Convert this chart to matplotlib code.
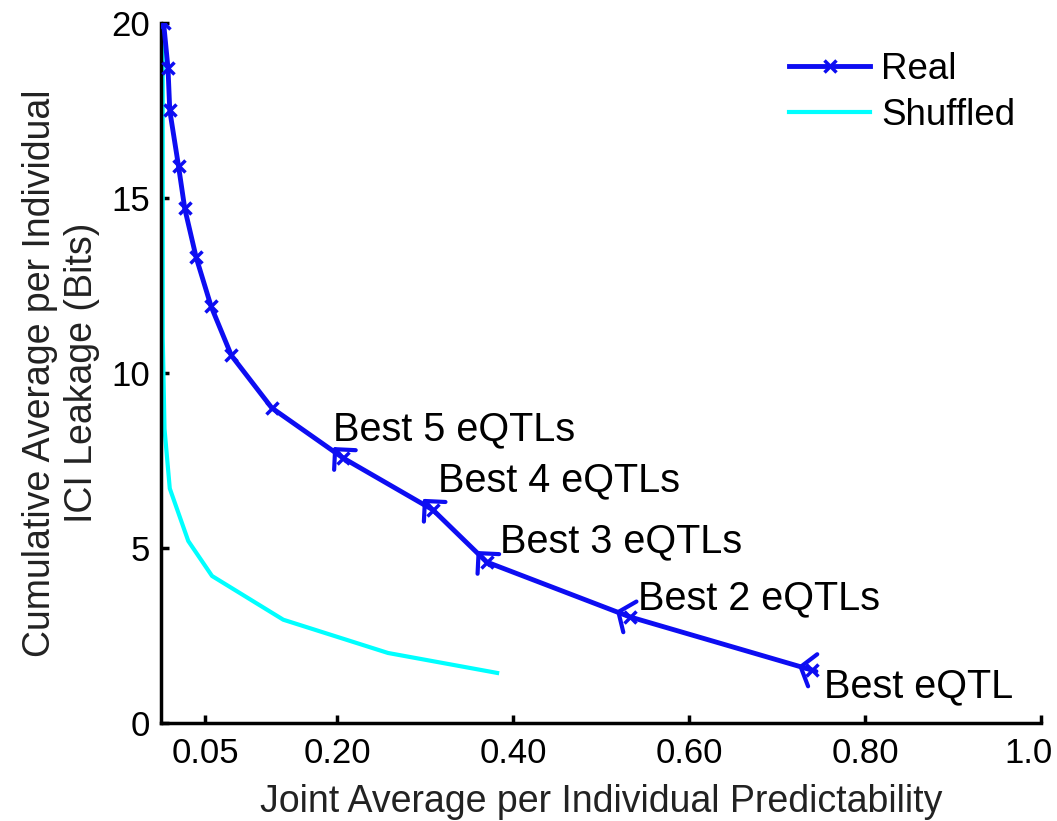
import matplotlib
matplotlib.use("Agg")
import matplotlib.pyplot as plt
from matplotlib.transforms import ScaledTranslation

plt.rcParams['font.family'] = ['Liberation Sans', 'DejaVu Sans']

# Data
real_x = [0.003, 0.008, 0.010, 0.020, 0.027, 0.040, 0.057, 0.080, 0.126, 0.207, 0.309, 0.370, 0.533, 0.740]
real_y = [20.0, 18.7, 17.5, 15.9, 14.7, 13.3, 11.9, 10.5, 9.0, 7.57, 6.09, 4.6, 3.03, 1.51]
shuf_x = [0.002, 0.002, 0.004, 0.010, 0.031, 0.058, 0.139, 0.258, 0.382]
shuf_y = [20.0, 11.0, 8.4, 6.7, 5.2, 4.2, 2.95, 2.0, 1.43]

labels = ["Best 5 eQTLs", "Best 4 eQTLs", "Best 3 eQTLs", "Best 2 eQTLs", "Best eQTL"]
label_idx = [9, 10, 11, 12, 13]

xticks = [0.05, 0.20, 0.40, 0.60, 0.80, 1.0]
xticklabels = ["0.05", "0.20", "0.40", "0.60", "0.80", "1.0"]
yticks = [0, 5, 10, 15, 20]
yticklabels = ["0", "5", "10", "15", "20"]

# styles: text offsets (pixels), arrow-head tip offsets (pixels) and head shapes per label
text_off = [(-10, 18), (5, 18), (13, 10), (8, 8), (12, -27)]
tip_off = [(-10, 11), (-10, 11), (-10, 11), (-14, 6), (-14, 4)]
head_shape = [(1.05, 1.05), (1.05, 1.05), (1.05, 1.05), (0.9, 1.2), (0.9, 1.2)]

BLUE = (0.05, 0.05, 0.95)
CYAN = (0.0, 1.0, 1.0)

fig = plt.figure(figsize=(10.57, 8.21), dpi=100)
ax = fig.add_axes([0.1523, 0.1194, 0.8325, 0.8526])

ax.plot(real_x, real_y, color=BLUE, lw=3.5, marker='x', ms=8.5, mew=2.5, label="Real", zorder=3)
ax.plot(shuf_x, shuf_y, color=CYAN, lw=3.0, label="Shuffled", zorder=2)

ax.set_xlim(0, 1.0)
ax.set_ylim(0, 20)

for lab, i, to in zip(labels, label_idx, text_off):
    ax.annotate(lab, xy=(real_x[i], real_y[i]), xytext=to, textcoords='offset pixels',
                ha='left', va='baseline', fontsize=28.5, color='black')

# arrow heads pointing from the data point towards the label corner
for i, tp, hs in zip(label_idx, tip_off, head_shape):
    px, py = real_x[i], real_y[i]
    trans = ax.transData
    X0, Y0 = trans.transform((px, py))
    tip = trans.inverted().transform((X0 + tp[0], Y0 + tp[1]))
    tail = trans.inverted().transform((X0 - tp[0] * 0.3, Y0 - tp[1] * 0.3))
    ax.annotate('', xy=tip, xytext=tail, xycoords='data', textcoords='data',
                arrowprops=dict(arrowstyle='->,head_length=%g,head_width=%g' % hs, color=BLUE, lw=3,
                                shrinkA=0, shrinkB=0), zorder=4)

ax.set_xticks(xticks)
ax.set_xticklabels(xticklabels)
ax.set_yticks(yticks)
ax.set_yticklabels(yticklabels)
ax.tick_params(direction='in', length=6, width=2.5, labelsize=25, pad=10, colors='black')
ax.tick_params(axis='y', pad=8)
for s in ['top', 'right']:
    ax.spines[s].set_visible(False)
for s in ['left', 'bottom']:
    ax.spines[s].set_linewidth(2.5)
    ax.spines[s].set_color('black')

last = ax.get_xticklabels()[-1]
last.set_transform(last.get_transform() + ScaledTranslation(-0.12, 0, fig.dpi_scale_trans))

ax.set_xlabel("Joint Average per Individual Predictability", fontsize=27, color='#222222', labelpad=10)
ax.set_ylabel("Cumulative Average per Individual\nICI Leakage (Bits)", fontsize=27, color='#222222',
              labelpad=8, linespacing=1.2)

leg = ax.legend(loc='upper right', bbox_to_anchor=(1.0, 0.995), frameon=False, fontsize=26.5,
                handlelength=2.2, handletextpad=0.3, labelspacing=0.3, borderaxespad=0.3)

fig.savefig("out.png", dpi=100)
